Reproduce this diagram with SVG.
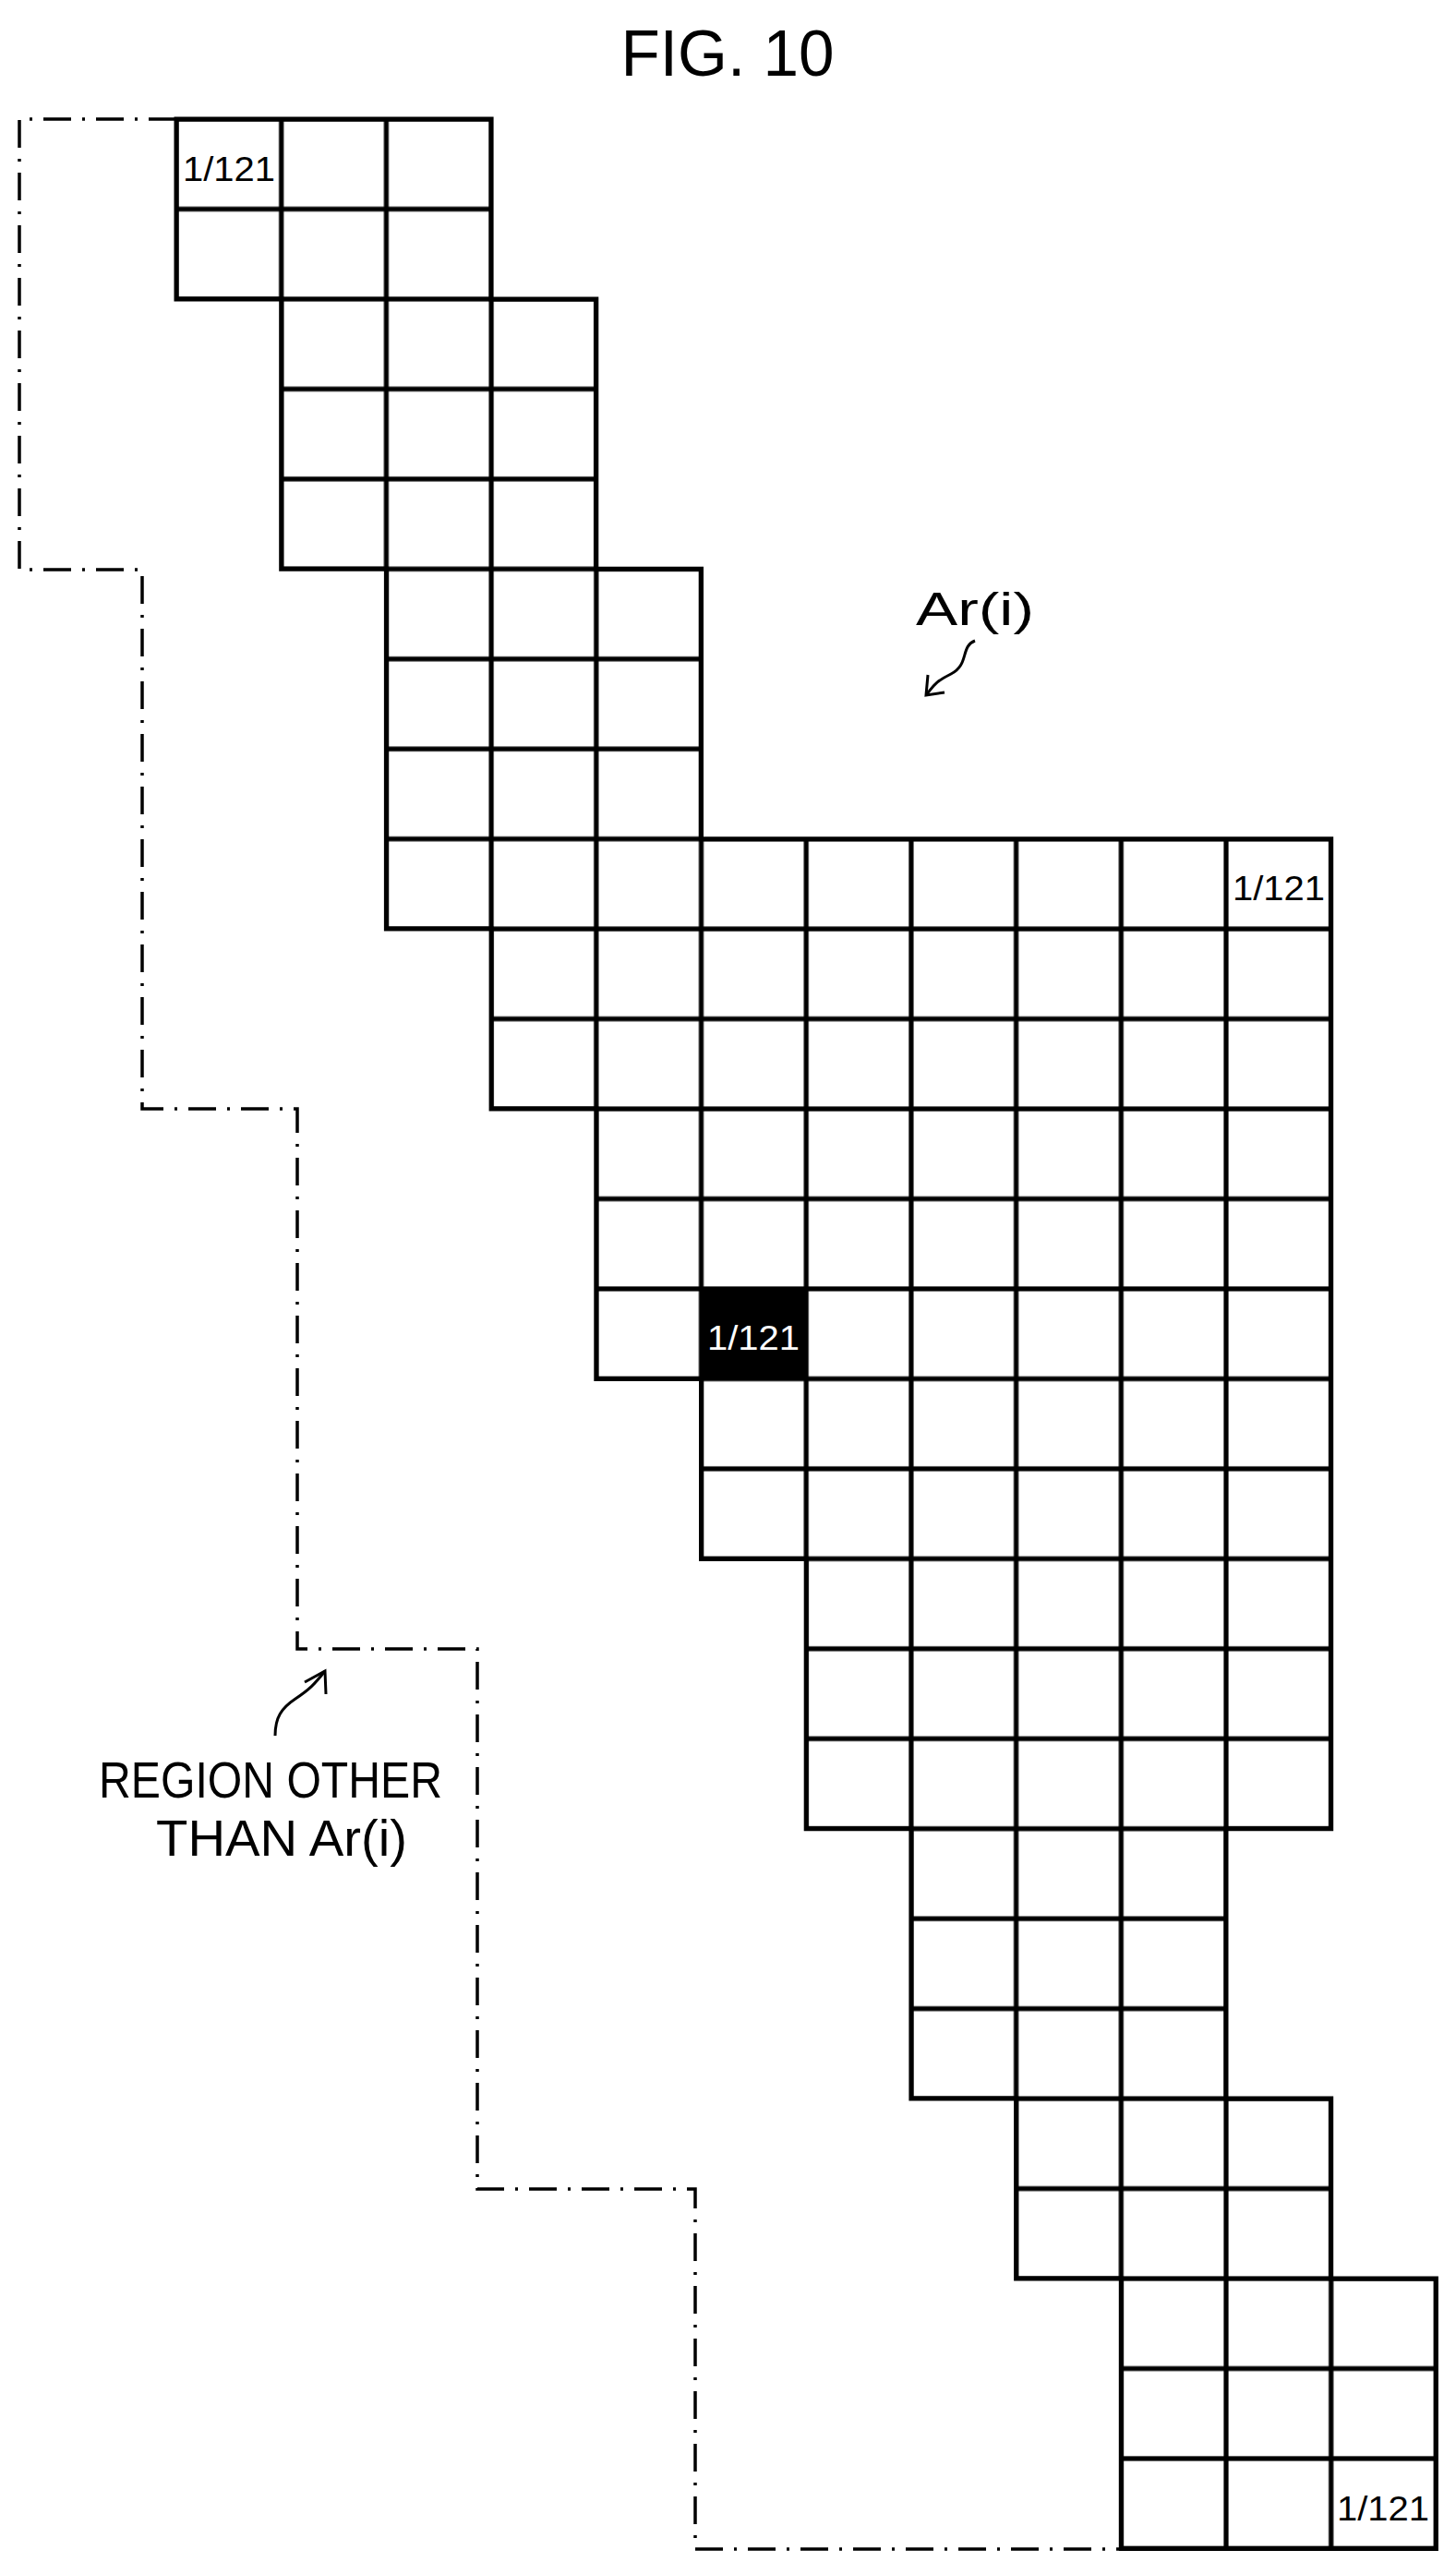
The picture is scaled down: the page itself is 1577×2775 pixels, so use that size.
<svg xmlns="http://www.w3.org/2000/svg" width="1577" height="2775" viewBox="0 0 1577 2775">
<style>
.lbl{font-family:"Liberation Sans",Arial,sans-serif;font-size:36px;text-anchor:middle}
.big{font-family:"Liberation Sans",Arial,sans-serif;text-anchor:middle;fill:#000}
.ln{fill:none;stroke:#000;stroke-width:3}
</style>
<defs>
<pattern id="grid" patternUnits="userSpaceOnUse" x="191" y="129" width="113.7" height="97.46">
<rect x="0" y="0" width="2.6" height="97.46" fill="#000"/>
<rect x="111.1" y="0" width="2.6" height="97.46" fill="#000"/>
<rect x="0" y="0" width="113.7" height="2.6" fill="#000"/>
<rect x="0" y="94.86" width="113.7" height="2.6" fill="#000"/>
</pattern>
</defs>
<rect width="1577" height="2775" fill="#fff"/>
<text class="big" x="788" y="82" font-size="70" textLength="231" lengthAdjust="spacingAndGlyphs">FIG. 10</text>
<g id="other-region">
<path d="M191,129 H21 V617 H154 V1201 H322 V1786 H517 V2371 H753 V2761 H1214" fill="none" stroke="#000" stroke-width="3.5" stroke-dasharray="30 12 3 12"/>
</g>
<g id="grid-region">
<path id="ar" d="M191,129 H532.1 V323.9 H645.8 V616.3 H759.5 V908.7 H1441.7 V1980.7 H1328 V2273.1 H1441.7 V2468 H1555.4 V2760.4 H1214.3 V2468 H1100.6 V2273.1 H986.9 V1980.7 H873.2 V1688.4 H759.5 V1493.4 H645.8 V1201.1 H532.1 V1006.1 H418.4 V616.3 H304.7 V323.9 H191 Z" fill="url(#grid)" stroke="#000" stroke-width="5"/>
<rect x="759.5" y="1396" width="113.7" height="97.46" fill="#000"/>
<text class="lbl" x="248" y="196" textLength="100" lengthAdjust="spacingAndGlyphs">1/121</text>
<text class="lbl" x="1385" y="975" textLength="100" lengthAdjust="spacingAndGlyphs">1/121</text>
<text class="lbl" x="816" y="1462" fill="#fff" textLength="100" lengthAdjust="spacingAndGlyphs">1/121</text>
<text class="lbl" x="1498" y="2730" textLength="100" lengthAdjust="spacingAndGlyphs">1/121</text>
</g>
<g id="label-ar">
<text class="big" x="1056" y="677" font-size="50" textLength="128" lengthAdjust="spacingAndGlyphs">Ar(i)</text>
</g>
<g id="label-region">
<text class="big" x="293" y="1947" font-size="56" textLength="372" lengthAdjust="spacingAndGlyphs">REGION OTHER</text>
<text class="big" x="305" y="2010" font-size="56" textLength="272" lengthAdjust="spacingAndGlyphs">THAN Ar(i)</text>
</g>
<g id="connectors">
<path class="ln" d="M1056,694 C1040,700 1050,720 1030,730 S1010,745 1003,753"/>
<path class="ln" d="M1005,731 L1003,753 L1023,750"/>
<path class="ln" d="M298,1880 C298,1860 305,1850 320,1840 S340,1825 352,1810"/>
<path class="ln" d="M330,1822 L352,1810 L353,1835"/>
</g>
</svg>
